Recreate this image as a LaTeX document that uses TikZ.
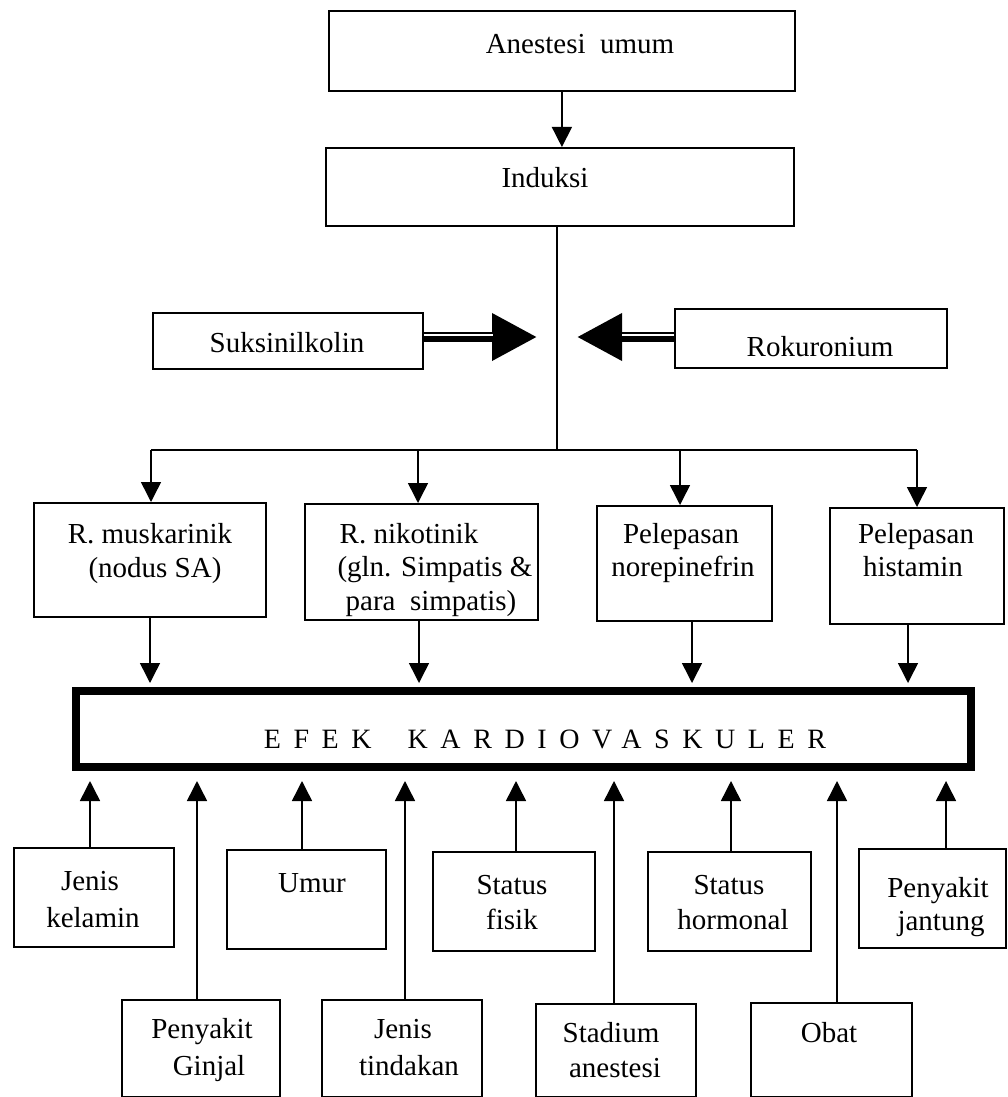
\documentclass[tikz,border=0pt]{standalone}
\usepackage{fontspec}
\setmainfont{Liberation Serif}
\newfontfamily\spacedfont[LetterSpace=45]{Liberation Serif}
\usetikzlibrary{arrows.meta}
\tikzset{
  box/.style={draw, line width=1.8pt, rectangle, inner sep=0pt},
  thickbox/.style={draw, line width=8pt, rectangle, inner sep=0pt},
  txt/.style={anchor=base, inner sep=0pt, font=\fontsize{29}{33}\selectfont},
  ln/.style={line width=1.5pt},
  arr/.style={line width=1.5pt, -{Triangle[length=20pt,width=20pt]}},
  bigarr/.style={line width=10pt, -{Triangle[length=45pt,width=45pt]}},
}
\newcommand\bx[6][box]{\node[#1,anchor=north west,minimum width={(#5-#3)*1pt},minimum height={(#6-#4)*1pt}] (#2) at (#3,#4) {};}
\newcommand\tx[4]{\node[txt] (#1) at (#2,#3) {#4};}
\begin{document}
\begin{tikzpicture}[x=1pt,y=-1pt]
\useasboundingbox (0,0) rectangle (1008,1097);
% boxes
\bx{anest}{328}{10}{794}{90}
\bx{ind}{325}{147}{793}{225}
\bx{suk}{152}{312}{422}{368}
\bx{rok}{674}{308}{946}{367}
\bx{mus}{33}{502}{265}{616}
\bx{nik}{304}{503}{537}{619}
\bx{nor}{596}{505}{771}{620}
\bx{his}{829}{507}{1003}{623}
\bx[thickbox]{efek}{72}{687}{967}{763}
\bx{jk}{13}{847}{173}{946}
\bx{umur}{226}{849}{385}{948}
\bx{sf}{432}{851}{594}{950}
\bx{sh}{647}{851}{810}{950}
\bx{pj}{858}{848}{1005}{947}
\bx{pg}{121}{999}{279}{1096}
\bx{jt}{321}{999}{481}{1096}
\bx{sa}{535}{1003}{695}{1096}
\bx{obat}{750}{1002}{911}{1096}
% texts
\tx{tanest}{580}{54}{Anestesi\ \ umum}
\tx{tind}{545}{187}{Induksi}
\tx{tsuk}{287}{352}{Suksinilkolin}
\tx{trok}{820}{356}{Rokuronium}
\tx{tmus1}{150}{543}{R. muskarinik}
\tx{tmus2}{155}{577}{(nodus SA)}
\tx{tnik1}{409}{543}{R. nikotinik}
\tx{tnik2}{435}{576}{(gln. Simpatis \&}
\tx{tnik3}{431}{610}{para\ \ simpatis)}
\tx{tnor1}{681}{543}{Pelepasan}
\tx{tnor2}{683}{576}{norepinefrin}
\tx{this1}{916}{543}{Pelepasan}
\tx{this2}{913}{576}{histamin}
\node[anchor=base, inner sep=0pt, font=\spacedfont\fontsize{28}{30}\selectfont] (tefek) at (545,748) {EFEK\hspace{36pt}KARDIOVASKULER};
\tx{tjk1}{90}{890}{Jenis}
\tx{tjk2}{93}{927}{kelamin}
\tx{tumur}{312}{892}{Umur}
\tx{tsf1}{512}{894}{Status}
\tx{tsf2}{512}{929}{fisik}
\tx{tsh1}{729}{894}{Status}
\tx{tsh2}{733}{929}{hormonal}
\tx{tpj1}{938}{897}{Penyakit}
\tx{tpj2}{941}{930}{jantung}
\tx{tpg1}{202}{1038}{Penyakit}
\tx{tpg2}{209}{1075}{Ginjal}
\tx{tjt1}{403}{1038}{Jenis}
\tx{tjt2}{409}{1075}{tindakan}
\tx{tsa1}{611}{1042}{Stadium}
\tx{tsa2}{615}{1077}{anestesi}
\tx{tobat}{829}{1042}{Obat}
% top connectors
\draw[arr] (anest.south) -- (anest.south |- ind.north);
\coordinate (hub) at (557,450);
\draw[ln] (hub |- ind.south) -- (hub);
\coordinate (b1) at (151,450);
\coordinate (b2) at (418,450);
\coordinate (b3) at (680,450);
\coordinate (b4) at (917,450);
\draw[ln] (b1) -- (b4);
\draw[arr] (b1) -- (b1 |- mus.north);
\draw[arr] (b2) -- (b2 |- nik.north);
\draw[arr] (b3) -- (b3 |- nor.north);
\draw[arr] (b4) -- (b4 |- his.north);
% big arrows
\coordinate (sk) at (537,337);
\coordinate (rk) at (577,337);
\draw[bigarr] (suk.east |- sk) -- (sk);
\draw[white, line width=1.6pt] (suk.east |- 0,335) -- (493,335);
\draw[bigarr] (rok.west |- rk) -- (rk);
\draw[white, line width=1.6pt] (rok.west |- 0,335) -- (622,335);
% row 2 to EFEK
\draw[arr, shorten >=4pt] (150,0 |- mus.south) -- (150,0 |- efek.north);
\draw[arr, shorten >=4pt] (419,0 |- nik.south) -- (419,0 |- efek.north);
\draw[arr, shorten >=4pt] (692,0 |- nor.south) -- (692,0 |- efek.north);
\draw[arr, shorten >=4pt] (908,0 |- his.south) -- (908,0 |- efek.north);
% factors to EFEK
\draw[arr, shorten >=10pt] (90,0 |- jk.north) -- (90,0 |- efek.south);
\draw[arr, shorten >=10pt] (197,0 |- pg.north) -- (197,0 |- efek.south);
\draw[arr, shorten >=10pt] (302,0 |- umur.north) -- (302,0 |- efek.south);
\draw[arr, shorten >=10pt] (405,0 |- jt.north) -- (405,0 |- efek.south);
\draw[arr, shorten >=10pt] (516,0 |- sf.north) -- (516,0 |- efek.south);
\draw[arr, shorten >=10pt] (614,0 |- sa.north) -- (614,0 |- efek.south);
\draw[arr, shorten >=10pt] (731,0 |- sh.north) -- (731,0 |- efek.south);
\draw[arr, shorten >=10pt] (837,0 |- obat.north) -- (837,0 |- efek.south);
\draw[arr, shorten >=10pt] (946,0 |- pj.north) -- (946,0 |- efek.south);
\end{tikzpicture}
\end{document}
